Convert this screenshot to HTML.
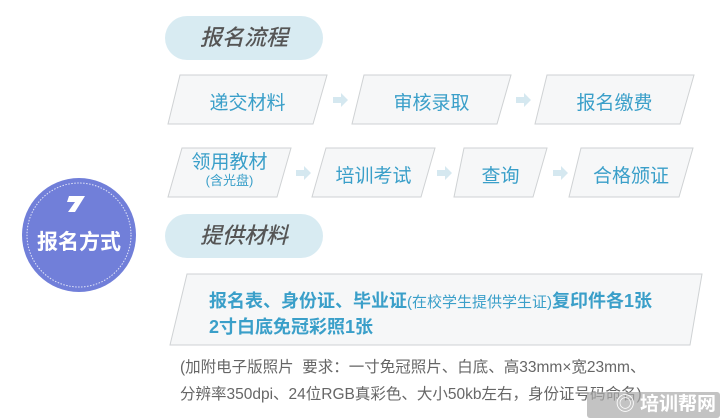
<!DOCTYPE html>
<html><head><meta charset="utf-8"><style>
body{margin:0;width:720px;height:418px;background:#fff;overflow:hidden;position:relative;font-family:"Liberation Sans","Noto Sans CJK SC",sans-serif}
.a{position:absolute}
.pill{position:absolute;background:#d8ebf2;border-radius:22px;color:#555;font-style:italic;font-size:22px;text-align:center;line-height:44px;font-weight:500}
.t{position:absolute;color:#3a9fc9;font-size:19px;text-align:center;white-space:nowrap}
.g{position:absolute;color:#666;font-size:15.5px;white-space:nowrap}
</style></head><body>
<svg class="a" style="left:0;top:0" width="720" height="418">
<g fill="#f6f7f8" stroke="#cfd2d4" stroke-width="1">
<polygon points="180,75 327,75 313,124 168,124"/>
<polygon points="364,75 511,75 497,124 352,124"/>
<polygon points="547,75 694,75 680,124 535,124"/>
<polygon points="182,148 291,148 277,197 168,197"/>
<polygon points="326,148 435,148 421,197 312,197"/>
<polygon points="464,148 547,148 533,197 454,197"/>
<polygon points="581,148 693,148 679,197 569,197"/>
<polygon points="187,274 702,274 690,345 170,345"/>
</g>
<g fill="#d5e8f0">
<path d="M333,97h8v-4l7,7l-7,7v-4h-8z"/>
<path d="M516,97h8v-4l7,7l-7,7v-4h-8z"/>
<path d="M296,170h8v-4l7,7l-7,7v-4h-8z"/>
<path d="M437,170h8v-4l7,7l-7,7v-4h-8z"/>
<path d="M553,170h8v-4l7,7l-7,7v-4h-8z"/>
</g>
<circle cx="79" cy="235" r="57" fill="#717fd9"/>
<circle cx="79" cy="235" r="52" fill="none" stroke="#fff" stroke-width="1" stroke-dasharray="1.5,1.5" opacity=".8"/>
<path d="M69,196h16l-10,16h-7l7,-10h-8z" fill="#fff"/>
</svg>
<div class="a" style="left:22px;top:226px;width:114px;text-align:center;color:#fff;font-weight:bold;font-size:21px">报名方式</div>
<div class="pill" style="left:165px;top:16px;width:158px">报名流程</div>
<div class="pill" style="left:165px;top:214px;width:158px">提供材料</div>
<div class="t" style="left:168px;top:88px;width:159px">递交材料</div>
<div class="t" style="left:352px;top:88px;width:159px">审核录取</div>
<div class="t" style="left:535px;top:88px;width:159px">报名缴费</div>
<div class="t" style="left:168px;top:152px;width:123px;line-height:22px">领用教材<br><span style="font-size:13px;line-height:14px;display:block">(含光盘)</span></div>
<div class="t" style="left:312px;top:161px;width:123px">培训考试</div>
<div class="t" style="left:454px;top:161px;width:93px">查询</div>
<div class="t" style="left:569px;top:161px;width:124px">合格颁证</div>
<div class="t" style="left:209px;top:287px;text-align:left;font-weight:bold;font-size:18px">报名表、身份证、毕业证<span style="font-weight:normal;font-size:15px">(在校学生提供学生证)</span>复印件各1张</div>
<div class="t" style="left:209px;top:313px;text-align:left;font-weight:bold;font-size:18px">2寸白底免冠彩照1张</div>
<div class="g" style="left:180px;top:355px">(加附电子版照片&nbsp; 要求：一寸免冠照片、白底、高33mm×宽23mm、</div>
<div class="g" style="left:180px;top:382px">分辨率350dpi、24位RGB真彩色、大小50kb左右，身份证号码命名)</div>
<div class="a" style="left:587px;top:392px;width:133px;height:26px;background:rgba(170,170,170,.7);border-radius:3px;color:#fff;font-size:19px;line-height:26px;text-align:right;padding-right:4px;box-sizing:border-box;font-weight:bold">◎ 培训帮网</div>
</body></html>
